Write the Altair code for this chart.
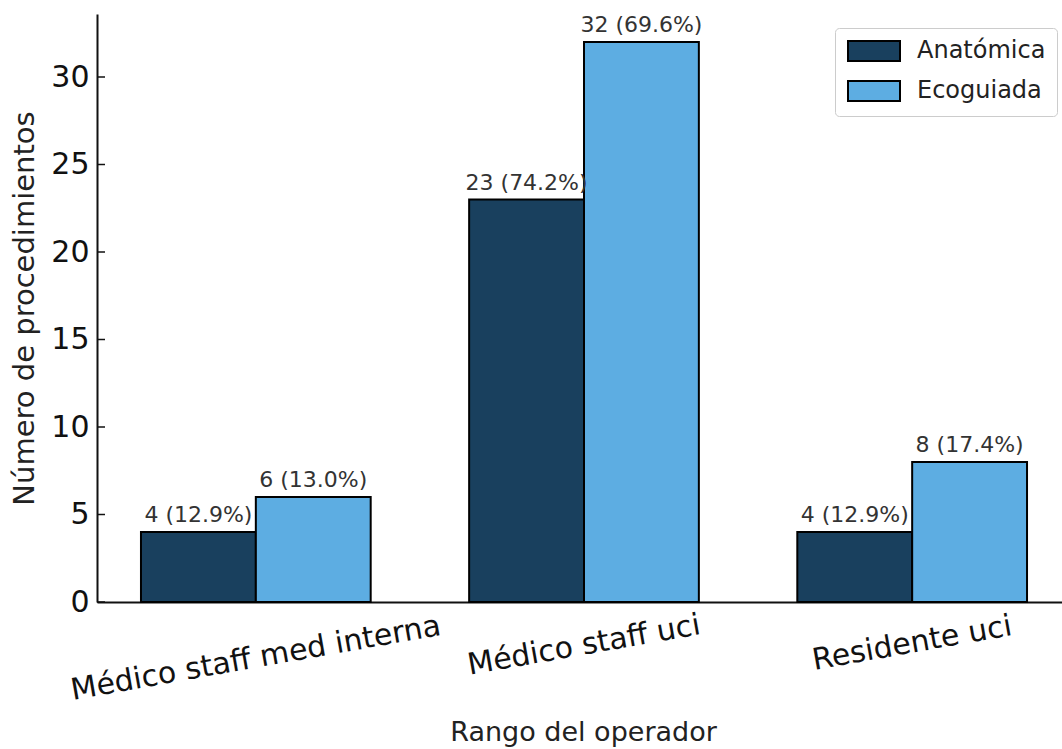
import altair as alt
import pandas as pd

categories = ["Médico staff med interna", "Médico staff uci", "Residente uci"]
series = ["Anatómica", "Ecoguiada"]
anatomica = [4, 23, 4]
ecoguiada = [6, 32, 8]
y_ticks = [0, 5, 10, 15, 20, 25, 30]
colors = ["#19405e", "#5dade2"]

rows = []
for name, vals in zip(series, [anatomica, ecoguiada]):
    total = sum(vals)
    for cat, v in zip(categories, vals):
        rows.append({"cat": cat, "serie": name, "n": v,
                     "label": f"{v} ({100 * v / total:.1f}%)"})
df = pd.DataFrame(rows)
ticks_df = pd.DataFrame({"t": y_ticks})

FONT = "DejaVu Sans"

x_axis = alt.Axis(
    title="Rango del operador",
    titleFontSize=27,
    titleFontWeight="normal",
    titleColor="#222222",
    titleX=486,
    titleY=138,
    titleBaseline="alphabetic",
    titleAlign="center",
    labelFontSize=30,
    labelColor="#111111",
    labelAngle=-10,
    labelAlign="center",
    labelBaseline="middle",
    labelPadding={
        "condition": [
            {"test": "datum.value == 'Médico staff med interna'", "value": 56},
            {"test": "datum.value == 'Residente uci'", "value": 41},
        ],
        "value": 43,
    },
    ticks=False,
    tickSize=0,
    domainColor="#111111",
    domainWidth=2,
    labelOverlap=False,
    labelLimit=0,
)
x_scale = alt.Scale(domain=categories, range=[0, 974], paddingInner=0.3, paddingOuter=0.134)
x_enc = alt.X("cat:N", sort=categories, scale=x_scale, axis=x_axis)
xoff = alt.XOffset("serie:N", sort=series,
                   scale=alt.Scale(domain=series, paddingInner=0, paddingOuter=0))

y_scale = alt.Scale(domain=[0, 33.6], nice=False, zero=True)
y_axis = alt.Axis(
    title="Número de procedimientos",
    titleFontSize=29,
    titleFontWeight="normal",
    titleColor="#222222",
    titleX=-64,
    titleY=294,
    titleAngle=270,
    titleAlign="center",
    titleBaseline="alphabetic",
    values=y_ticks,
    labelFontSize=30,
    labelColor="#111111",
    labelPadding=8,
    ticks=False,
    tickSize=0,
    domainColor="#111111",
    domainWidth=2,
    grid=False,
)
y_enc = alt.Y("n:Q", scale=y_scale, axis=y_axis)

bars = alt.Chart(df).mark_bar(stroke="black", strokeWidth=2).encode(
    x=x_enc,
    xOffset=xoff,
    y=y_enc,
    color=alt.Color(
        "serie:N",
        sort=series,
        scale=alt.Scale(domain=series, range=colors),
        legend=alt.Legend(
            title=None,
            orient="none",
            legendX=738,
            legendY=14,
            labelFontSize=24,
            labelColor="#222222",
            symbolType="M-1,-1H4.2V1H-1Z",
            symbolSize=400,
            symbolStrokeColor="black",
            symbolStrokeWidth=2,
            symbolOpacity=1,
            labelOffset=47,
            rowPadding=12,
            padding=11,
            fillColor="white",
            strokeColor="#cccccc",
            cornerRadius=4,
        ),
    ),
)

text = alt.Chart(df).mark_text(
    baseline="alphabetic", dy=-10, fontSize=22, color="#333333", font=FONT
).encode(
    x=x_enc,
    xOffset=xoff,
    y=y_enc,
    text="label:N",
)

yticks = alt.Chart(ticks_df).mark_rule(color="#111111", strokeWidth=1.5).encode(
    y=alt.Y("t:Q", scale=y_scale, axis=y_axis),
    x=alt.value(0),
    x2=alt.value(8),
)

chart = (
    alt.layer(bars, text, yticks)
    .properties(
        width=965,
        height=588,
        autosize=alt.AutoSizeParams(type="none"),
        padding={"left": 97, "top": 14, "right": 0, "bottom": 147},
    )
    .configure(font=FONT)
    .configure_view(stroke=None)
)

chart.save("out.html", embed_options={"renderer": "svg", "actions": False})
